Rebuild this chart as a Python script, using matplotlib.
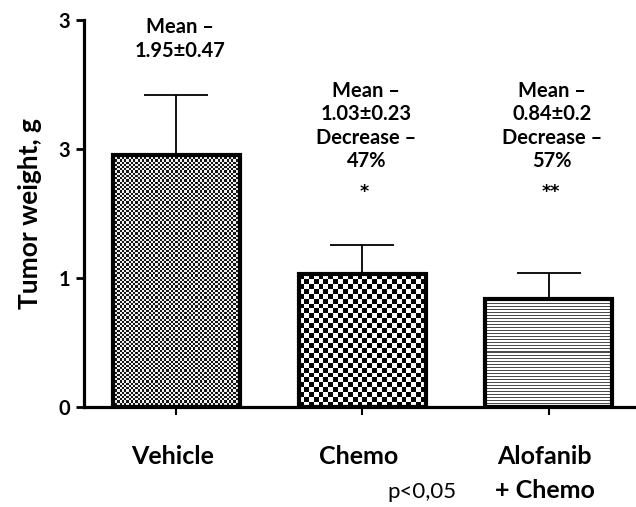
import numpy as np
import matplotlib
matplotlib.use("Agg")
import matplotlib.pyplot as plt

plt.rcParams['font.family'] = ['Lato', 'DejaVu Sans']

categories = ["Vehicle", "Chemo", "Alofanib\n+ Chemo"]
means = [1.95, 1.03, 0.84]
sds = [0.47, 0.23, 0.20]
annotations = ["Mean –\n1.95±0.47",
               "Mean –\n1.03±0.23\nDecrease –\n47%",
               "Mean –\n0.84±0.2\nDecrease –\n57%"]
sig_marks = ["", "*", "**"]
ytick_values = [0, 1, 2, 3]
ytick_labels = ["0", "1", "3", "3"]
pvalue_text = "p<0,05"

fig = plt.figure(figsize=(6.36, 5.07), dpi=100)
ax = fig.add_axes([0.132, 0.197, 0.868, 0.7636])

x = np.arange(len(categories))
ax.set_xlim(-0.497, 2.47)
ax.set_ylim(0, 3)

bars = ax.bar(x, means, width=0.68, facecolor='none', edgecolor='black',
              linewidth=3.0, zorder=3)
ax.errorbar(x, means, yerr=[np.zeros(len(sds)), sds], fmt='none', ecolor='black',
            elinewidth=1.3, capsize=23, capthick=1.3, zorder=2)


def checker(ny, nx):
    yy, xx = np.mgrid[0:ny, 0:nx]
    return ((yy + xx) % 2).astype(float)


fig.canvas.draw()
for i, b in enumerate(bars):
    bb = b.get_window_extent()
    wpx, hpx = bb.width, bb.height
    if i == 0:
        cell = 2.2
        arr = checker(max(1, int(hpx / cell)), max(1, int(wpx / cell)))
        cmap = matplotlib.colors.ListedColormap(['#151515', '#f0f0f0'])
    elif i == 1:
        cell = 4.8
        arr = checker(max(1, int(hpx / cell)), max(1, int(wpx / cell)))
        cmap = matplotlib.colors.ListedColormap(['#000000', '#ffffff'])
    else:
        n = max(1, int(round(hpx)))
        rows = (np.arange(n) % 3 != 0).astype(float)
        arr = np.repeat(rows[:, None], 10, axis=1)
        cmap = matplotlib.colors.ListedColormap(['#4a4a4a', '#ffffff'])
    im = ax.imshow(arr, cmap=cmap, interpolation='nearest', aspect='auto',
                   extent=(b.get_x(), b.get_x() + b.get_width(), 0, b.get_height()),
                   zorder=2.5, origin='lower')
    im.set_clip_path(b)

ax.set_xlim(-0.497, 2.47)
ax.set_ylim(0, 3)

ax.spines['top'].set_visible(False)
ax.spines['right'].set_visible(False)
ax.spines['left'].set_linewidth(2.3)
ax.spines['bottom'].set_linewidth(2.3)

ax.set_yticks(ytick_values)
ax.set_yticklabels(ytick_labels, fontsize=14.5, fontweight='bold')
ax.tick_params(axis='y', length=6, width=2, pad=4)
ax.set_xticks(x)
ax.set_xticklabels([])
ax.tick_params(axis='x', length=6, width=1.5)

for xi, lab in zip(x, categories):
    ax.text(xi - 0.02, -0.29, lab, ha='center', va='top', fontsize=18,
            fontweight='bold', linespacing=1.6)
ax.text(1.32, -0.58, pvalue_text, ha='center', va='top', fontsize=16)

ax.set_ylabel("Tumor weight, g", fontsize=19, fontweight='bold', labelpad=12)

ann_tops = [3.02, 2.53, 2.53]
for xi, txt, yt in zip(x, annotations, ann_tops):
    ax.text(xi + 0.02, yt, txt, ha='center', va='top', fontsize=14.5,
            fontweight='bold', linespacing=1.22)
for xi, mark in zip(x, sig_marks):
    if mark:
        ax.text(xi + 0.01, 1.67, mark, ha='center', va='center', fontsize=12.5,
                fontweight='bold', family=['DejaVu Sans'])

fig.savefig("out.png", dpi=100)
